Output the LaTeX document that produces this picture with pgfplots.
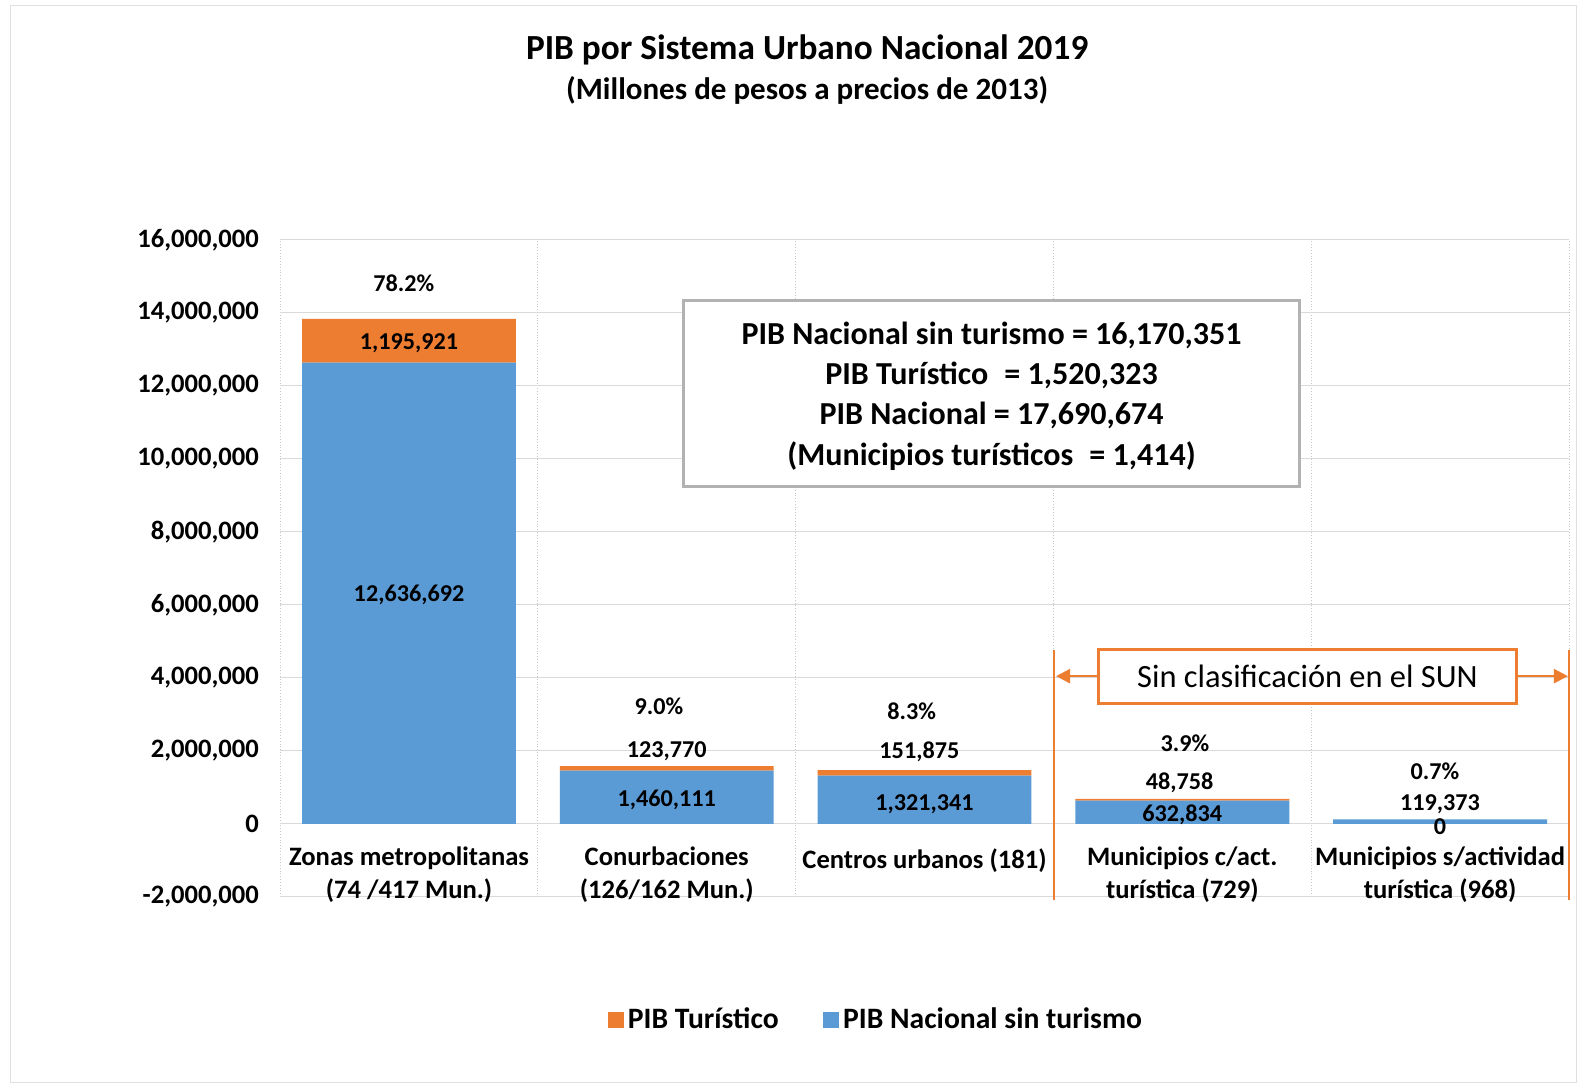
\documentclass[border=0pt]{standalone}
\usepackage{fontspec}
\setmainfont{Carlito}
\usepackage{pgfplots}
\pgfplotsset{compat=1.18}
\usetikzlibrary{arrows.meta}
\definecolor{cblue}{HTML}{5B9BD5}
\definecolor{corange}{HTML}{ED7D31}
\newcommand{\fsz}[1]{\fontsize{#1}{#1}\selectfont}
\tikzset{dlab/.style={font=\fsz{12}\bfseries}}
\begin{document}
\begin{tikzpicture}
\path[use as bounding box] (0,0) rectangle (784pt,-539.5pt);
\fill[white] (0,0) rectangle (784pt,-539.5pt);
\draw[gray!25] (5pt,-2.5pt) rectangle (782pt,-537pt);
\node[font=\fsz{17.5}\bfseries] at (400.5pt,-25pt) {PIB por Sistema Urbano Nacional 2019};
\node[font=\fsz{15.4}\bfseries] at (400.5pt,-45pt) {(Millones de pesos a precios de 2013)};
\begin{axis}[
  at={(139pt,-445pt)}, anchor=south west, scale only axis,
  width=639.5pt, height=326pt,
  ybar stacked, bar width=0.83,
  xmin=-0.5, xmax=4.5, ymin=-2000000, ymax=16000000,
  xtick={0,1,2,3,4},
  xticklabels={{Zonas metropolitanas\\(74 /417 Mun.)},{Conurbaciones\\(126/162 Mun.)},{Centros urbanos (181)\\ },{Municipios c/act.\\turística (729)},{Municipios s/actividad\\turística (968)}},
  xticklabel style={font=\fontsize{13.2}{16}\selectfont\bfseries, align=center, anchor=center, yshift=11pt},
  minor xtick={-0.5,0.5,1.5,2.5,3.5,4.5},
  xminorgrids, minor grid style={gray!45, densely dotted},
  ytick={-2000000,0,2000000,4000000,6000000,8000000,10000000,12000000,14000000,16000000},
  yticklabels={{-2,000,000},{0},{2,000,000},{4,000,000},{6,000,000},{8,000,000},{10,000,000},{12,000,000},{14,000,000},{16,000,000}},
  yticklabel style={font=\fsz{13.2}\bfseries, xshift=-7pt},
  scaled y ticks=false,
  ymajorgrids, major grid style={gray!30},
  axis line style={draw=none},
  major tick length=0, minor tick length=0,
  legend columns=2,
  legend style={at={(0.463,-0.187)}, anchor=center, draw=none, fill=none,
    font=\fsz{14.7}\bfseries,
    /tikz/every even column/.append style={column sep=20pt}},
  legend image code/.code={\fill[#1] (0pt,-4pt) rectangle (8pt,4pt);},
]
\addlegendimage{fill=corange, draw=none}
\addlegendentry{PIB Turístico}
\addlegendimage{fill=cblue, draw=none}
\addlegendentry{PIB Nacional sin turismo}
\addplot[fill=cblue, draw=none, forget plot] coordinates {(0,12636692) (1,1460111) (2,1321341) (3,632834) (4,119373)};
\addplot[fill=corange, draw=none, forget plot] coordinates {(0,1195921) (1,123770) (2,151875) (3,48758) (4,0)};

\coordinate (a1) at (-0.02,14800000);
\coordinate (a2) at (0,13180000);
\coordinate (a3) at (0,6270000);
\coordinate (b1) at (0.97,3230000);
\coordinate (b2) at (1,1990000);
\coordinate (b3) at (1,660000);
\coordinate (c1) at (1.95,3090000);
\coordinate (c2) at (1.98,1960000);
\coordinate (c3) at (2,550000);
\coordinate (d1) at (3.01,2210000);
\coordinate (d2) at (2.99,1130000);
\coordinate (d3) at (3,250000);
\coordinate (e1) at (3.98,1440000);
\coordinate (e2) at (4,550000);
\coordinate (e3) at (4,-80000);
\end{axis}
\node[dlab] at (a1) {78.2\%};
\node[dlab] at (a2) {1,195,921};
\node[dlab] at (a3) {12,636,692};
\node[dlab] at (b1) {9.0\%};
\node[dlab] at (b2) {123,770};
\node[dlab] at (b3) {1,460,111};
\node[dlab] at (c1) {8.3\%};
\node[dlab] at (c2) {151,875};
\node[dlab] at (c3) {1,321,341};
\node[dlab] at (d1) {3.9\%};
\node[dlab] at (d2) {48,758};
\node[dlab] at (d3) {632,834};
\node[dlab] at (e1) {0.7\%};
\node[dlab] at (e2) {119,373};
\node[dlab] at (e3) {0};
% summary box
\draw[gray!60, line width=1.5pt, fill=white] (339pt,-149pt) rectangle (645pt,-241.5pt);
\node[font=\fsz{15.9}\bfseries] at (492pt,-166.5pt) {PIB Nacional sin turismo = 16,170,351};
\node[font=\fsz{15.9}\bfseries] at (492pt,-186.5pt) {PIB Turístico\enspace= 1,520,323};
\node[font=\fsz{15.9}\bfseries] at (492pt,-206pt) {PIB Nacional = 17,690,674};
\node[font=\fsz{15.9}\bfseries] at (492pt,-226.5pt) {(Municipios turísticos\enspace= 1,414)};
% SUN annotation
\draw[corange, line width=0.8pt] (523pt,-322.5pt) -- (523pt,-446.5pt);
\draw[corange, line width=0.8pt] (778.5pt,-322.5pt) -- (778.5pt,-446.5pt);
\draw[corange, line width=1.2pt, -{Triangle[length=7pt,width=7pt]}] (545pt,-335.5pt) -- (524pt,-335.5pt);
\draw[corange, line width=1.2pt, -{Triangle[length=7pt,width=7pt]}] (752.5pt,-335.5pt) -- (778pt,-335.5pt);
\draw[corange, line width=1.5pt, fill=white] (545pt,-322.5pt) rectangle (752.5pt,-349pt);
\node[font=\fsz{16.1}] at (648.75pt,-335.75pt) {Sin clasificación en el SUN};
\end{tikzpicture}
\end{document}
